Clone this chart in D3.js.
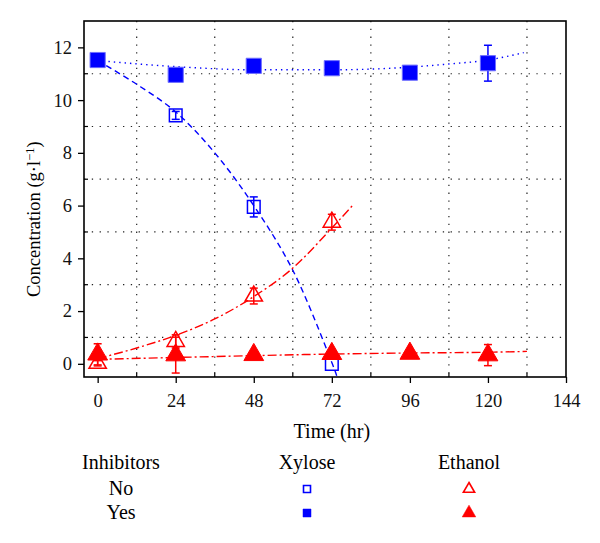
<!DOCTYPE html>
<html><head><meta charset="utf-8">
<script src="https://cdn.jsdelivr.net/npm/d3@7"></script>
<style>body{margin:0;background:#fff}svg{display:block}</style>
</head><body><svg id="c" width="600" height="543"></svg>
<script>
// ---- data ----
const times = [0, 24, 48, 72, 96, 120];
const xyloseNo = [11.5, 9.42, 5.95, 0.0];
const xyloseNoErr = [0, 0.15, 0.38, 0];
const xyloseYes = [11.52, 10.96, 11.3, 11.21, 11.04, 11.4];
const xyloseYesErr = [0.1, 0.1, 0.1, 0.1, 0.1, 0.68];
const ethanolNo = [0.02, 0.85, 2.57, 5.37];
const ethanolNoErr = [0.1, 0.25, 0.3, 0.3];
const ethanolYes = [0.36, 0.33, 0.34, 0.38, 0.39, 0.33];
const ethanolYesErr = [0.4, 0.68, 0.1, 0.1, 0.1, 0.4];
// fitted trend curves
const fitXyloseYesT = [0, 24, 48, 72, 96, 108, 120, 131];
const fitXyloseYesV = [11.5, 11.27, 11.15, 11.15, 11.25, 11.37, 11.52, 11.8];
const fitXyloseNoT = [0, 12, 24, 36, 48, 60, 72, 73.5];
const fitXyloseNoV = [11.5, 10.6, 9.55, 8.0, 6.0, 3.55, 0.05, -0.45];
const fitEthanolNoT = [0, 12, 24, 36, 48, 60, 72, 78.5];
const fitEthanolNoV = [0.2, 0.6, 1.08, 1.7, 2.55, 3.63, 5.15, 6.02];
const fitEthanolYesT = [0, 24, 48, 72, 96, 120, 132];
const fitEthanolYesV = [0.17, 0.24, 0.31, 0.37, 0.41, 0.44, 0.47];
const xTicks = [0, 24, 48, 72, 96, 120, 144];
const xGrid = [12, 36, 60, 84, 108, 132];
const yTicks = [0, 2, 4, 6, 8, 10, 12];
const yGrid = [1, 3, 5, 7, 9, 11];
const legendRows = ["No", "Yes"];

const FONT = '"Liberation Serif", "Times New Roman", Times, "DejaVu Serif", serif';
const BLUE = "#0000ff", RED = "#ff0000";
const svg = d3.select("#c").attr("font-family", FONT);
const L = 84, R = 566, T = 21, B = 377;
const x = d3.scaleLinear().domain([-4.2, 144]).range([L, R]);
const y = d3.scaleLinear().domain([-0.5, 13]).range([B, T]);

// grid
const g = svg.append("g");
g.selectAll(".vg").data(xGrid).join("line")
  .attr("x1", d => x(d)).attr("x2", d => x(d)).attr("y1", T).attr("y2", B)
  .attr("stroke", "#222").attr("stroke-width", 1.2).attr("stroke-dasharray", "1.3,6.5");
g.selectAll(".hg").data(yGrid).join("line")
  .attr("y1", d => y(d)).attr("y2", d => y(d)).attr("x1", L).attr("x2", R)
  .attr("stroke", "#222").attr("stroke-width", 1.2).attr("stroke-dasharray", "1.3,6.5");

// axes
const xAxis = d3.axisBottom(x).tickValues(xTicks).tickSize(6).tickPadding(11).tickFormat(d3.format("d"));
const yAxis = d3.axisLeft(y).tickValues(yTicks).tickSize(6).tickPadding(6).tickFormat(d3.format("d"));
const gx = svg.append("g").attr("transform", `translate(0,${B})`).call(xAxis);
const gy = svg.append("g").attr("transform", `translate(${L},0)`).call(yAxis);
[gx, gy].forEach(a => {
  a.attr("font-family", FONT).attr("font-size", 18.5);
  a.select(".domain").remove();
  a.selectAll("line").attr("stroke", "#000").attr("stroke-width", 1.3);
  a.selectAll("text").attr("fill", "#111");
});
// minor inward ticks
svg.append("g").selectAll("line").data(xGrid).join("line")
  .attr("x1", d => x(d)).attr("x2", d => x(d)).attr("y1", B).attr("y2", B - 4)
  .attr("stroke", "#000").attr("stroke-width", 1.2);
svg.append("g").selectAll("line").data(yGrid).join("line")
  .attr("y1", d => y(d)).attr("y2", d => y(d)).attr("x1", L).attr("x2", L + 4)
  .attr("stroke", "#000").attr("stroke-width", 1.2);
// frame
svg.append("rect").attr("x", L).attr("y", T).attr("width", R - L).attr("height", B - T)
  .attr("fill", "none").attr("stroke", "#000").attr("stroke-width", 1.6);

// fitted curves
const line = d3.line().x(d => x(d[0])).y(d => y(d[1])).curve(d3.curveMonotoneX);
const zip = (a, b) => a.map((t, i) => [t, b[i]]);
svg.append("path").attr("d", line(zip(fitXyloseYesT, fitXyloseYesV)))
  .attr("fill", "none").attr("stroke", BLUE).attr("stroke-width", 1.4).attr("stroke-dasharray", "1.4,4");
svg.append("path").attr("d", d3.line().x(d => x(d[0])).y(d => y(d[1])).curve(d3.curveCatmullRom)(zip(fitXyloseNoT, fitXyloseNoV)))
  .attr("fill", "none").attr("stroke", BLUE).attr("stroke-width", 1.4).attr("stroke-dasharray", "6,4");
svg.append("path").attr("d", line(zip(fitEthanolNoT, fitEthanolNoV)))
  .attr("fill", "none").attr("stroke", RED).attr("stroke-width", 1.4).attr("stroke-dasharray", "9,3,2,3");
svg.append("path").attr("d", line(zip(fitEthanolYesT, fitEthanolYesV)))
  .attr("fill", "none").attr("stroke", RED).attr("stroke-width", 1.4).attr("stroke-dasharray", "9,3,2,3");

// error bars
function errBars(vals, errs, color) {
  const d = vals.map((v, i) => ({ t: times[i], v, e: errs[i] })).filter(o => o.e > 0);
  const eg = svg.append("g").attr("stroke", color).attr("stroke-width", 1.5);
  eg.selectAll(".v").data(d).join("line")
    .attr("x1", o => x(o.t)).attr("x2", o => x(o.t)).attr("y1", o => y(o.v - o.e)).attr("y2", o => y(o.v + o.e));
  eg.selectAll(".c1").data(d).join("line")
    .attr("x1", o => x(o.t) - 4).attr("x2", o => x(o.t) + 4).attr("y1", o => y(o.v - o.e)).attr("y2", o => y(o.v - o.e));
  eg.selectAll(".c2").data(d).join("line")
    .attr("x1", o => x(o.t) - 4).attr("x2", o => x(o.t) + 4).attr("y1", o => y(o.v + o.e)).attr("y2", o => y(o.v + o.e));
}
errBars(xyloseNo, xyloseNoErr, BLUE);
errBars(xyloseYes, xyloseYesErr, BLUE);
errBars(ethanolNo, ethanolNoErr, RED);
errBars(ethanolYes, ethanolYesErr, RED);

// markers
function markers(vals, type, size, color, filled) {
  svg.append("g").selectAll("path").data(vals).join("path")
    .attr("transform", (v, i) => `translate(${x(times[i])},${y(v)})`)
    .attr("d", d3.symbol().type(type).size(size)())
    .attr("fill", filled ? color : "none")
    .attr("stroke", filled ? (color === BLUE ? "#6f6fff" : color) : color)
    .attr("stroke-width", filled ? 1 : 1.5);
}
markers(xyloseNo, d3.symbolSquare, 160, BLUE, false);
markers(xyloseYes, d3.symbolSquare, 230, BLUE, true);
markers(ethanolNo, d3.symbolTriangle, 130, RED, false);
markers(ethanolYes, d3.symbolTriangle, 170, RED, true);

// axis titles
svg.append("text").attr("x", (x(0) + x(144)) / 2).attr("y", 438).attr("text-anchor", "middle")
  .attr("font-size", 20).text("Time (hr)");
const yl = svg.append("text").attr("transform", "translate(40,297) rotate(-90)").attr("text-anchor", "start")
  .attr("font-size", 18.5);
yl.append("tspan").text("Concentration (g·l");
yl.append("tspan").attr("dy", -6).attr("font-size", 12.5).text("−1");
yl.append("tspan").attr("dy", 6).text(")");

// legend
const lg = svg.append("g");
const colX = [121, 307, 469];
["Inhibitors", "Xylose", "Ethanol"].forEach((h, i) => {
  lg.append("text").attr("x", colX[i]).attr("y", 469).attr("text-anchor", "middle").attr("font-size", 20).text(h);
});
const rowY = [489, 513];
legendRows.forEach((r, i) => {
  lg.append("text").attr("x", colX[0]).attr("y", rowY[i] + 6).attr("text-anchor", "middle").attr("font-size", 20).text(r);
  const filled = r === "Yes";
  lg.append("path").attr("transform", `translate(${colX[1]},${rowY[i]})`)
    .attr("d", d3.symbol().type(d3.symbolSquare).size(filled ? 64 : 49)())
    .attr("fill", filled ? BLUE : "none").attr("stroke", BLUE).attr("stroke-width", filled ? 0.5 : 1.6);
  lg.append("path").attr("transform", `translate(${colX[2]},${rowY[i]})`)
    .attr("d", d3.symbol().type(d3.symbolTriangle).size(filled ? 80 : 55)())
    .attr("fill", filled ? RED : "none").attr("stroke", RED).attr("stroke-width", filled ? 0.5 : 1.6);
});
</script></body></html>
